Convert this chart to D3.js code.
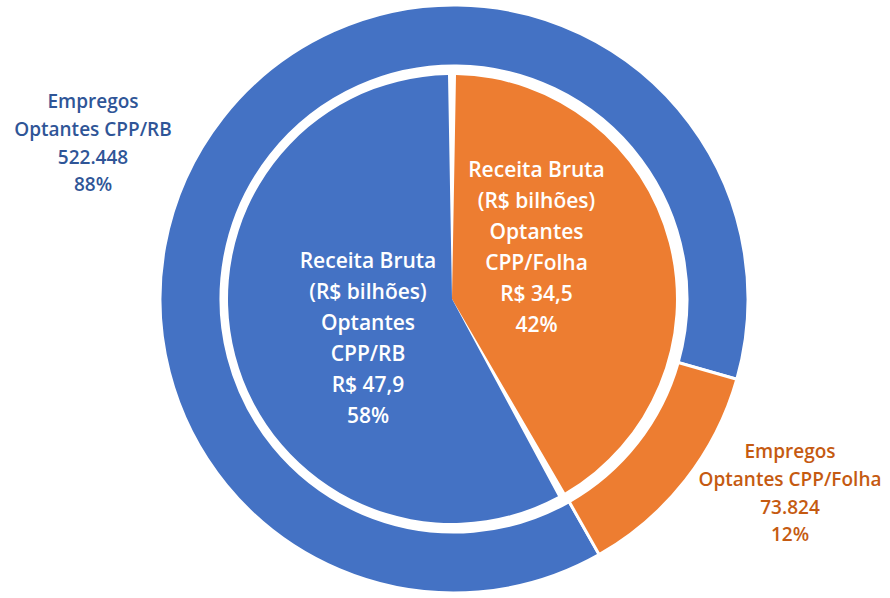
<!DOCTYPE html>
<html>
<head>
<meta charset="utf-8">
<script src="https://cdn.jsdelivr.net/npm/d3@7"></script>
<style>
  html, body { margin: 0; padding: 0; background: #ffffff; }
  svg { display: block; }
  text { font-family: "Open Sans", "Noto Sans", sans-serif; }
</style>
</head>
<body>
<svg id="chart" width="890" height="598"></svg>
<script>
// ---- Data ----
const categories = ["Optantes CPP/RB", "Optantes CPP/Folha"];
const receitaValues = [47.9, 34.5];          // R$ bilhões
const receitaValueLabels = ["R$ 47,9", "R$ 34,5"];
const receitaPctLabels = ["58%", "42%"];
const empregosValues = [522448, 73824];
const empregosValueLabels = ["522.448", "73.824"];
const empregosPctLabels = ["88%", "12%"];

// ---- Styles / layout ----
const fills = ["#4472C4", "#ED7D31"];
const outerTextColors = ["#2F5597", "#C55A11"];
const svg = d3.select("#chart");
const deg = Math.PI / 180;

// Outer ring (Empregos)
const ringCx = 454, ringCy = 299;
const ringOuter = 294, ringInner = 233;
const ringStart = 150.4 * deg;
const ringPie = d3.pie().sort(null).value(d => d.v)
  .startAngle(ringStart).endAngle(ringStart + 2 * Math.PI);
const ringData = ringPie(categories.map((c, i) => ({ c, v: empregosValues[i], i })));
const ringArc = d3.arc().innerRadius(ringInner).outerRadius(ringOuter);

svg.append("g").attr("transform", `translate(${ringCx},${ringCy})`)
  .selectAll("path").data(ringData).join("path")
  .attr("d", ringArc)
  .attr("fill", d => fills[d.data.i])
  .attr("stroke", "#ffffff").attr("stroke-width", 3).attr("stroke-linejoin", "miter");

// Inner pie (Receita Bruta) — CPP/Folha first from 12 o'clock
const pieCx = 452, pieCy = 299, pieR = 224;
const pieOrder = [1, 0];
const innerPie = d3.pie().sort(null).value(d => d.v);
const innerData = innerPie(pieOrder.map(i => ({ c: categories[i], v: receitaValues[i], i })));
const innerArc = d3.arc().innerRadius(0).outerRadius(pieR)
  .padAngle(8 / pieR).padRadius(pieR);

svg.append("g").attr("transform", `translate(${pieCx},${pieCy})`)
  .selectAll("path").data(innerData).join("path")
  .attr("d", innerArc)
  .attr("fill", d => fills[d.data.i]);

// ---- Labels ----
function block(x, y0, lineH, lines, color, size) {
  const t = svg.append("text")
    .attr("text-anchor", "middle")
    .attr("fill", color)
    .attr("font-size", size)
    .attr("font-weight", 600);
  lines.forEach((s, k) => {
    t.append("tspan").attr("x", x).attr("y", y0 + k * lineH).text(s);
  });
}

// Inner labels
block(368, 268, 31,
  ["Receita Bruta", "(R$ bilhões)", "Optantes", "CPP/RB", receitaValueLabels[0], receitaPctLabels[0]],
  "#ffffff", 21);
block(536.5, 177, 31,
  ["Receita Bruta", "(R$ bilhões)", "Optantes", "CPP/Folha", receitaValueLabels[1], receitaPctLabels[1]],
  "#ffffff", 21);

// Outer labels
block(93, 108, 27.8,
  ["Empregos", categories[0], empregosValueLabels[0], empregosPctLabels[0]],
  outerTextColors[0], 19);
block(790, 458, 27.8,
  ["Empregos", categories[1], empregosValueLabels[1], empregosPctLabels[1]],
  outerTextColors[1], 19);
</script>
</body>
</html>
